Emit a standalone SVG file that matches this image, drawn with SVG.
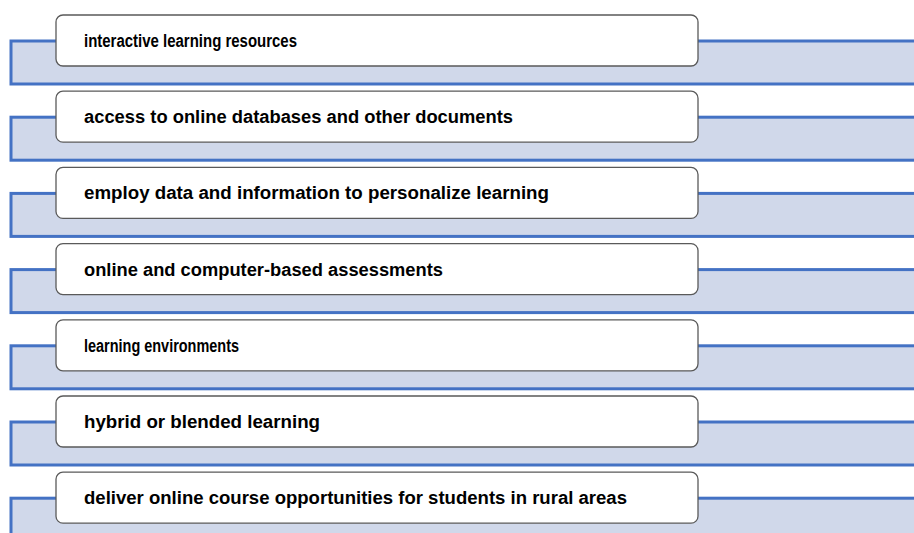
<svg xmlns="http://www.w3.org/2000/svg" width="914" height="533" viewBox="0 0 914 533">
  <style>
    .band { fill: #D0D8EA; stroke: #4472C4; stroke-width: 3; }
    .box { fill: #FFFFFF; stroke: #5A5A5A; stroke-width: 1.3; }
    .label { font-family: "Liberation Sans", Arial, sans-serif; font-weight: bold; font-size: 17.5px; fill: #000000; }
  </style>
  <rect width="914" height="533" fill="#FFFFFF"/>

  <!-- background bands with blue rules -->
  <g id="bands">
    <rect class="band" x="11" y="41" width="920" height="43"/>
    <rect class="band" x="11" y="117.2" width="920" height="43"/>
    <rect class="band" x="11" y="193.4" width="920" height="43"/>
    <rect class="band" x="11" y="269.6" width="920" height="43"/>
    <rect class="band" x="11" y="345.8" width="920" height="43"/>
    <rect class="band" x="11" y="422" width="920" height="43"/>
    <rect class="band" x="11" y="498.2" width="920" height="43"/>
  </g>

  <g id="item1">
    <rect class="box" x="56" y="15" width="642" height="51" rx="7"/>
    <text class="label" x="84" y="47" textLength="213" lengthAdjust="spacingAndGlyphs">interactive learning resources</text>
  </g>
  <g id="item2">
    <rect class="box" x="56" y="91.2" width="642" height="51" rx="7"/>
    <text class="label" x="84" y="123.2" textLength="429" lengthAdjust="spacingAndGlyphs">access to online databases and other documents</text>
  </g>
  <g id="item3">
    <rect class="box" x="56" y="167.4" width="642" height="51" rx="7"/>
    <text class="label" x="84" y="199.4" textLength="465" lengthAdjust="spacingAndGlyphs">employ data and information to personalize learning</text>
  </g>
  <g id="item4">
    <rect class="box" x="56" y="243.6" width="642" height="51" rx="7"/>
    <text class="label" x="84" y="275.6" textLength="359" lengthAdjust="spacingAndGlyphs">online and computer-based assessments</text>
  </g>
  <g id="item5">
    <rect class="box" x="56" y="319.8" width="642" height="51" rx="7"/>
    <text class="label" x="84" y="351.8" textLength="155" lengthAdjust="spacingAndGlyphs">learning environments</text>
  </g>
  <g id="item6">
    <rect class="box" x="56" y="396" width="642" height="51" rx="7"/>
    <text class="label" x="84" y="428" textLength="236" lengthAdjust="spacingAndGlyphs">hybrid or blended learning</text>
  </g>
  <g id="item7">
    <rect class="box" x="56" y="472.2" width="642" height="51" rx="7"/>
    <text class="label" x="84" y="504.2" textLength="543" lengthAdjust="spacingAndGlyphs">deliver online course opportunities for students in rural areas</text>
  </g>
</svg>
